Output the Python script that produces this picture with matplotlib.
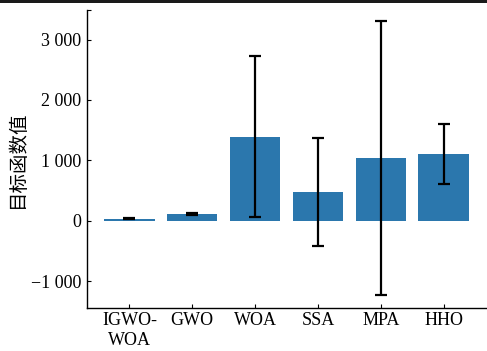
import matplotlib
matplotlib.use("Agg")
import matplotlib.pyplot as plt
from matplotlib.ticker import FuncFormatter
from matplotlib.patches import Rectangle

# 데이터
algos = ["IGWO-\nWOA", "GWO", "WOA", "SSA", "MPA", "HHO"]
means = [30, 110, 1390, 480, 1035, 1100]
errs = [8, 15, 1335, 895, 2270, 497]

BAR_COLOR = "#2b77ad"

plt.rcParams["font.family"] = ["Liberation Serif", "DejaVu Serif"]
plt.rcParams["axes.unicode_minus"] = True

fig = plt.figure(figsize=(4.87, 3.51), dpi=100)
ax = fig.add_axes([0.1786, 0.1225, 0.8194, 0.849])

x = list(range(len(algos)))
ax.bar(x, means, width=0.8, color=BAR_COLOR, yerr=errs,
       error_kw=dict(ecolor="black", elinewidth=1.6, capsize=4, capthick=1.6))

ax.set_xlim(-0.675, 5.675)
ax.set_ylim(-1445, 3490)
ax.set_xticks(x)
ax.set_xticklabels(algos, fontsize=13, linespacing=1.25)

yt = [-1000, 0, 1000, 2000, 3000, 3490]
ax.set_yticks(yt)


def fmt(v, pos):
    if v > 3200:
        return ""
    s = f"{abs(int(round(v))):,}".replace(",", " ")
    return ("\u2212" + s) if v < 0 else s


ax.yaxis.set_major_formatter(FuncFormatter(fmt))
ax.tick_params(axis="both", direction="in", length=3, width=0.8, labelsize=13, pad=4)
ax.tick_params(axis="x", pad=3)

for side in ["top", "right"]:
    ax.spines[side].set_visible(False)
for side in ["left", "bottom"]:
    ax.spines[side].set_linewidth(1.0)

ax.set_ylabel("目标函数值", fontsize=14, family=["Noto Sans CJK SC", "DejaVu Sans"], labelpad=2)

# 상단 검은 띠
fig.add_artist(Rectangle((0, 1 - 3 / 351), 1, 3 / 351, transform=fig.transFigure,
                         color="#1a1a1a", linewidth=0))

fig.savefig("out.png", dpi=100)
